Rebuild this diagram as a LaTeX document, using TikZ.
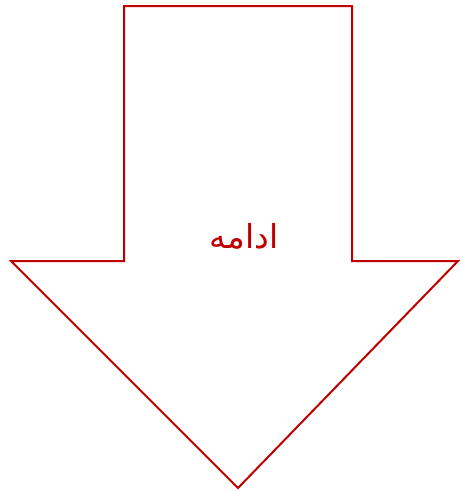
\documentclass[tikz,border=0pt]{standalone}
\usepackage{fontspec}
\newfontfamily\arabicfont[Script=Arabic]{DejaVu Sans}
\TeXXeTstate=1
\usepackage{xcolor}
\definecolor{arrowred}{HTML}{C00000}
\usetikzlibrary{positioning}

\begin{document}
\begin{tikzpicture}[x=1pt, y=-1pt, every node/.style={font=\arabicfont, align=center}]
\useasboundingbox (0,0) rectangle (459,491);
\draw[arrowred, line width=2pt, line join=miter, fill=white]
  (124,6) -- (352,6) -- (352,261) -- (458,261) -- (238,488) -- (11,261) -- (124,261) -- cycle;
\node[text=arrowred, font=\arabicfont\fontsize{33}{38}\selectfont] (label) at (244,236) {\beginR ادامه\endR};
\end{tikzpicture}
\end{document}
